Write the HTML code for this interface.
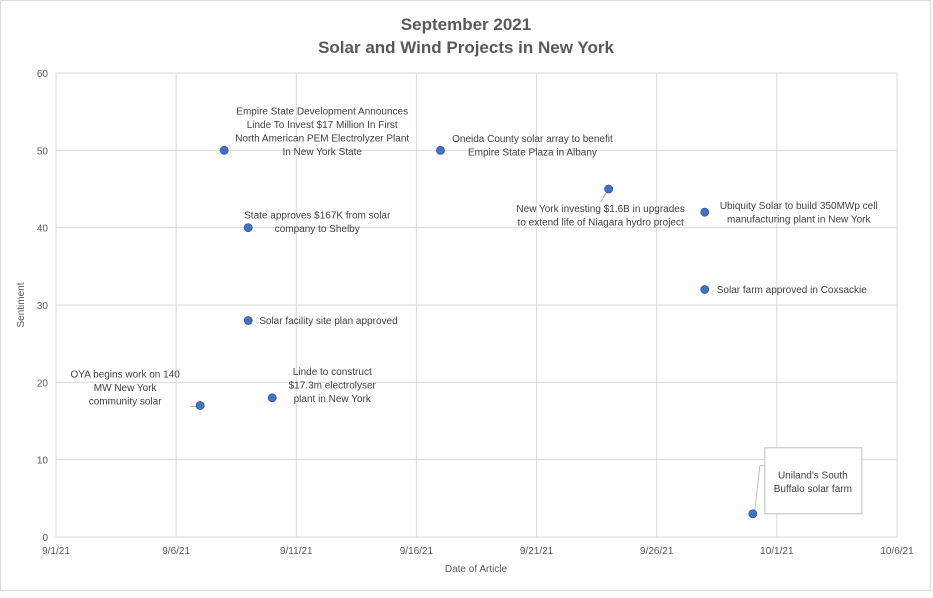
<!DOCTYPE html>
<html><head><meta charset="utf-8"><style>
body{margin:0;background:#fff;font-family:"Liberation Sans",sans-serif}
svg text{font-family:"Liberation Sans",sans-serif}
</style></head><body>
<svg width="933" height="593" xmlns="http://www.w3.org/2000/svg">
<rect x="0.5" y="0.5" width="930" height="590" fill="#fff" stroke="#d9d9d9"/>
<text x="466" y="30" text-anchor="middle" font-size="17" font-weight="bold" fill="#595959">September 2021</text>
<text x="466" y="53" text-anchor="middle" font-size="17" font-weight="bold" fill="#595959">Solar and Wind Projects in New York</text>
<g id="grid"></g>
<g id="axes"></g>
<g id="labels"></g>
<g id="points"></g>
<text x="476" y="572" text-anchor="middle" font-size="10" fill="#595959">Date of Article</text>
<text x="0" y="0" transform="translate(24,305) rotate(-90)" text-anchor="middle" font-size="10" fill="#595959">Sentiment</text>
</svg>
<script>
const xTickLabels=["9/1/21","9/6/21","9/11/21","9/16/21","9/21/21","9/26/21","10/1/21","10/6/21"];
const xTickDays=[1,6,11,16,21,26,31,36];
const yTicks=[0,10,20,30,40,50,60];
const pointDays=[7,8,9,9,10,17,24,28,28,30];
const pointSentiment=[17,50,40,28,18,50,45,42,32,3];
const pointTitles=["OYA begins work on 140 MW New York community solar","Empire State Development Announces Linde To Invest $17 Million In First North American PEM Electrolyzer Plant In New York State","State approves $167K from solar company to Shelby","Solar facility site plan approved","Linde to construct $17.3m electrolyser plant in New York","Oneida County solar array to benefit Empire State Plaza in Albany","New York investing $1.6B in upgrades to extend life of Niagara hydro project","Ubiquity Solar to build 350MWp cell manufacturing plant in New York","Solar farm approved in Coxsackie","Uniland's South Buffalo solar farm"];
const X0=56,X1=897,Y0=537,Y1=73;
const xs=d=>X0+(d-1)*(X1-X0)/35;
const ys=v=>Y0-v*(Y0-Y1)/60;
const NS="http://www.w3.org/2000/svg";
function mk(tag,parent,attrs){const e=document.createElementNS(NS,tag);for(const k in attrs)e.setAttribute(k,attrs[k]);document.getElementById(parent).appendChild(e);return e;}
xTickDays.forEach((d,i)=>{
 const l=mk('line','grid',{x1:xs(d),x2:xs(d),y1:Y1,y2:Y0,stroke:'#d9d9d9'});
 
 
 const t=mk('text','axes',{x:xs(d),y:Y0+17,'text-anchor':'middle','font-size':'10',fill:'#595959'});
 t.textContent=xTickLabels[i];
 
 
});
yTicks.forEach(v=>{
 const l=mk('line','grid',{x1:X0,x2:X1,y1:ys(v),y2:ys(v),stroke:'#d9d9d9'});
 
 
 const t=mk('text','axes',{x:X0-8,y:ys(v)+4,'text-anchor':'end','font-size':'10',fill:'#595959'});
 t.textContent=v;
 
 
});
// label layouts: [dx, dy, anchor, lines]
const layouts=[
 [-75,-18,'middle',["OYA begins work on 140","MW New York","community solar"]],
 [98,-19,'middle',["Empire State Development Announces","Linde To Invest $17 Million In First","North American PEM Electrolyzer Plant","In New York State"]],
 [69,-6,'middle',["State approves $167K from solar","company to Shelby"]],
 [11,0,'start',["Solar facility site plan approved"]],
 [60,-13,'middle',["Linde to construct","$17.3m electrolyser","plant in New York"]],
 [92,-5,'middle',["Oneida County solar array to benefit","Empire State Plaza in Albany"]],
 [-8,26,'middle',["New York investing $1.6B in upgrades","to extend life of Niagara hydro project"]],
 [94,0,'middle',["Ubiquity Solar to build 350MWp cell","manufacturing plant in New York"]],
 [12,0,'start',["Solar farm approved in Coxsackie"]],
 [60,-32,'middle',["Uniland's South","Buffalo solar farm"]]
];
pointDays.forEach((d,i)=>{
 const px=xs(d),py=ys(pointSentiment[i]);
 const [dx,dy,anc,lines]=layouts[i];
 if(i===9){
  const b=mk('rect','labels',{x:px+12,y:py-66,width:97,height:66,fill:'#fff',stroke:'#bfbfbf'});
  
  
  const p=mk('polyline','labels',{points:`${px+12},${py-48} ${px+7},${py-48} ${px+2},${py-3}`,fill:'none',stroke:'#bfbfbf'});
  
  
 }
 if(i===0){const p=mk('line','labels',{x1:px-10,y1:py+1,x2:px-3,y2:py+1,stroke:'#a6a6a6'});}
 if(i===6){const p=mk('line','labels',{x1:px-2,y1:py+3,x2:px-8,y2:py+13,stroke:'#a6a6a6'});}
 const n=lines.length;
 lines.forEach((ln,j)=>{
  const t=mk('text','labels',{x:px+dx,y:py+dy+(j-(n-1)/2)*13.5+3.5,'text-anchor':anc,'font-size':'10',fill:'#404040'});
  t.textContent=ln;
  
  
 });
 const c=mk('circle','points',{cx:px,cy:py,r:4,fill:'#4472c4',stroke:'#2f5597','stroke-width':'0.8'});
 
 
 const tt=document.createElementNS(NS,'title');tt.textContent=pointTitles[i];c.appendChild(tt);
});
</script>
</body></html>
